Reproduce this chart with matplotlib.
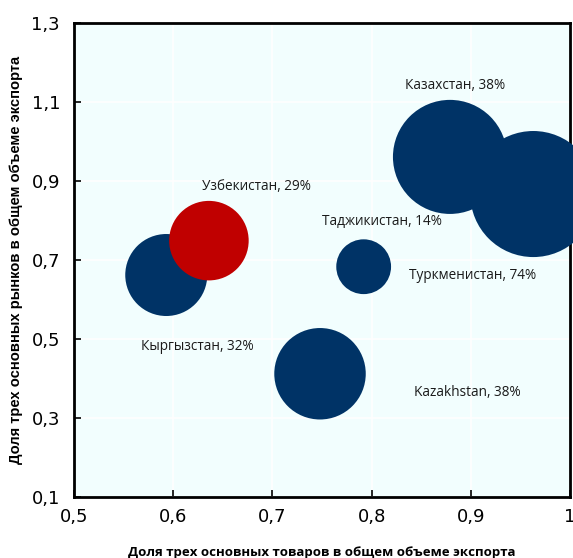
import matplotlib
matplotlib.use("Agg")
import matplotlib.pyplot as plt
import numpy as np

# Bubble data: share of top-3 goods (x), share of top-3 markets (y), bubble weight
countries = ["Кыргызстан, 32%", "Узбекистан, 29%", "Таджикистан, 14%",
             "Казахстан, 38%", "Туркменистан, 74%", "Kazakhstan, 38%"]
goods_share = [0.593, 0.636, 0.792, 0.879, 0.963, 0.748]
markets_share = [0.662, 0.749, 0.683, 0.961, 0.867, 0.412]
bubble_weight = [1.68, 1.58, 0.75, 3.25, 3.97, 2.09]
colors = ["#003366", "#C00000", "#003366", "#003366", "#003366", "#003366"]

# label anchor positions (data coords)
label_x = [0.624, 0.684, 0.810, 0.884, 0.902, 0.896]
label_y = [0.482, 0.885, 0.798, 1.141, 0.662, 0.364]

x_ticks = [0.5, 0.6, 0.7, 0.8, 0.9, 1.0]
x_ticklabels = ["0,5", "0,6", "0,7", "0,8", "0,9", "1"]
y_ticks = [0.1, 0.3, 0.5, 0.7, 0.9, 1.1, 1.3]
y_ticklabels = ["0,1", "0,3", "0,5", "0,7", "0,9", "1,1", "1,3"]

fig = plt.figure(figsize=(5.73, 5.58), dpi=100)
ax = fig.add_axes([74 / 573, 1 - 497 / 558, (570 - 74) / 573, (497 - 23) / 558])
ax.set_facecolor("#F2FEFE")

# marker area in points^2, scaled from bubble weight
sizes = [w * 2075 for w in bubble_weight]
order = [5, 2, 0, 1, 3, 4]
for i in order:
    ax.scatter(goods_share[i], markets_share[i], s=sizes[i], color=colors[i],
               edgecolors="none", zorder=3, clip_on=False)

label_font = ["Open Sans", "DejaVu Sans"]
for i, txt in enumerate(countries):
    ax.text(label_x[i], label_y[i], txt, ha="center", va="center",
            fontsize=9.8, family=label_font, color="#1a1a1a", zorder=4)

ax.set_xlim(0.5, 1.0)
ax.set_ylim(0.1, 1.3)
ax.set_xticks(x_ticks)
ax.set_xticklabels(x_ticklabels)
ax.set_yticks(y_ticks)
ax.set_yticklabels(y_ticklabels)
tick_font = ["Liberation Sans Narrow", "DejaVu Sans"]
for lab in ax.get_xticklabels() + ax.get_yticklabels():
    lab.set_family(tick_font)
    lab.set_fontsize(13)
ax.tick_params(direction="in", length=5, width=1.2, color="black", pad=8)
ax.tick_params(axis="y", pad=10)

ax.grid(True, color="white", linewidth=1.2, zorder=1)
ax.set_axisbelow(True)
for sp in ax.spines.values():
    sp.set_linewidth(2)
    sp.set_color("black")

ax.set_xlabel("Доля трех основных товаров в общем объеме экспорта",
              fontsize=9.5, fontweight="bold", family=label_font, labelpad=14)
ax.set_ylabel("Доля трех основных рынков в общем объеме экспорта",
              fontsize=10.6, fontweight="bold", family=["Liberation Sans", "DejaVu Sans"],
              labelpad=6)

fig.savefig("out.png", dpi=100)
